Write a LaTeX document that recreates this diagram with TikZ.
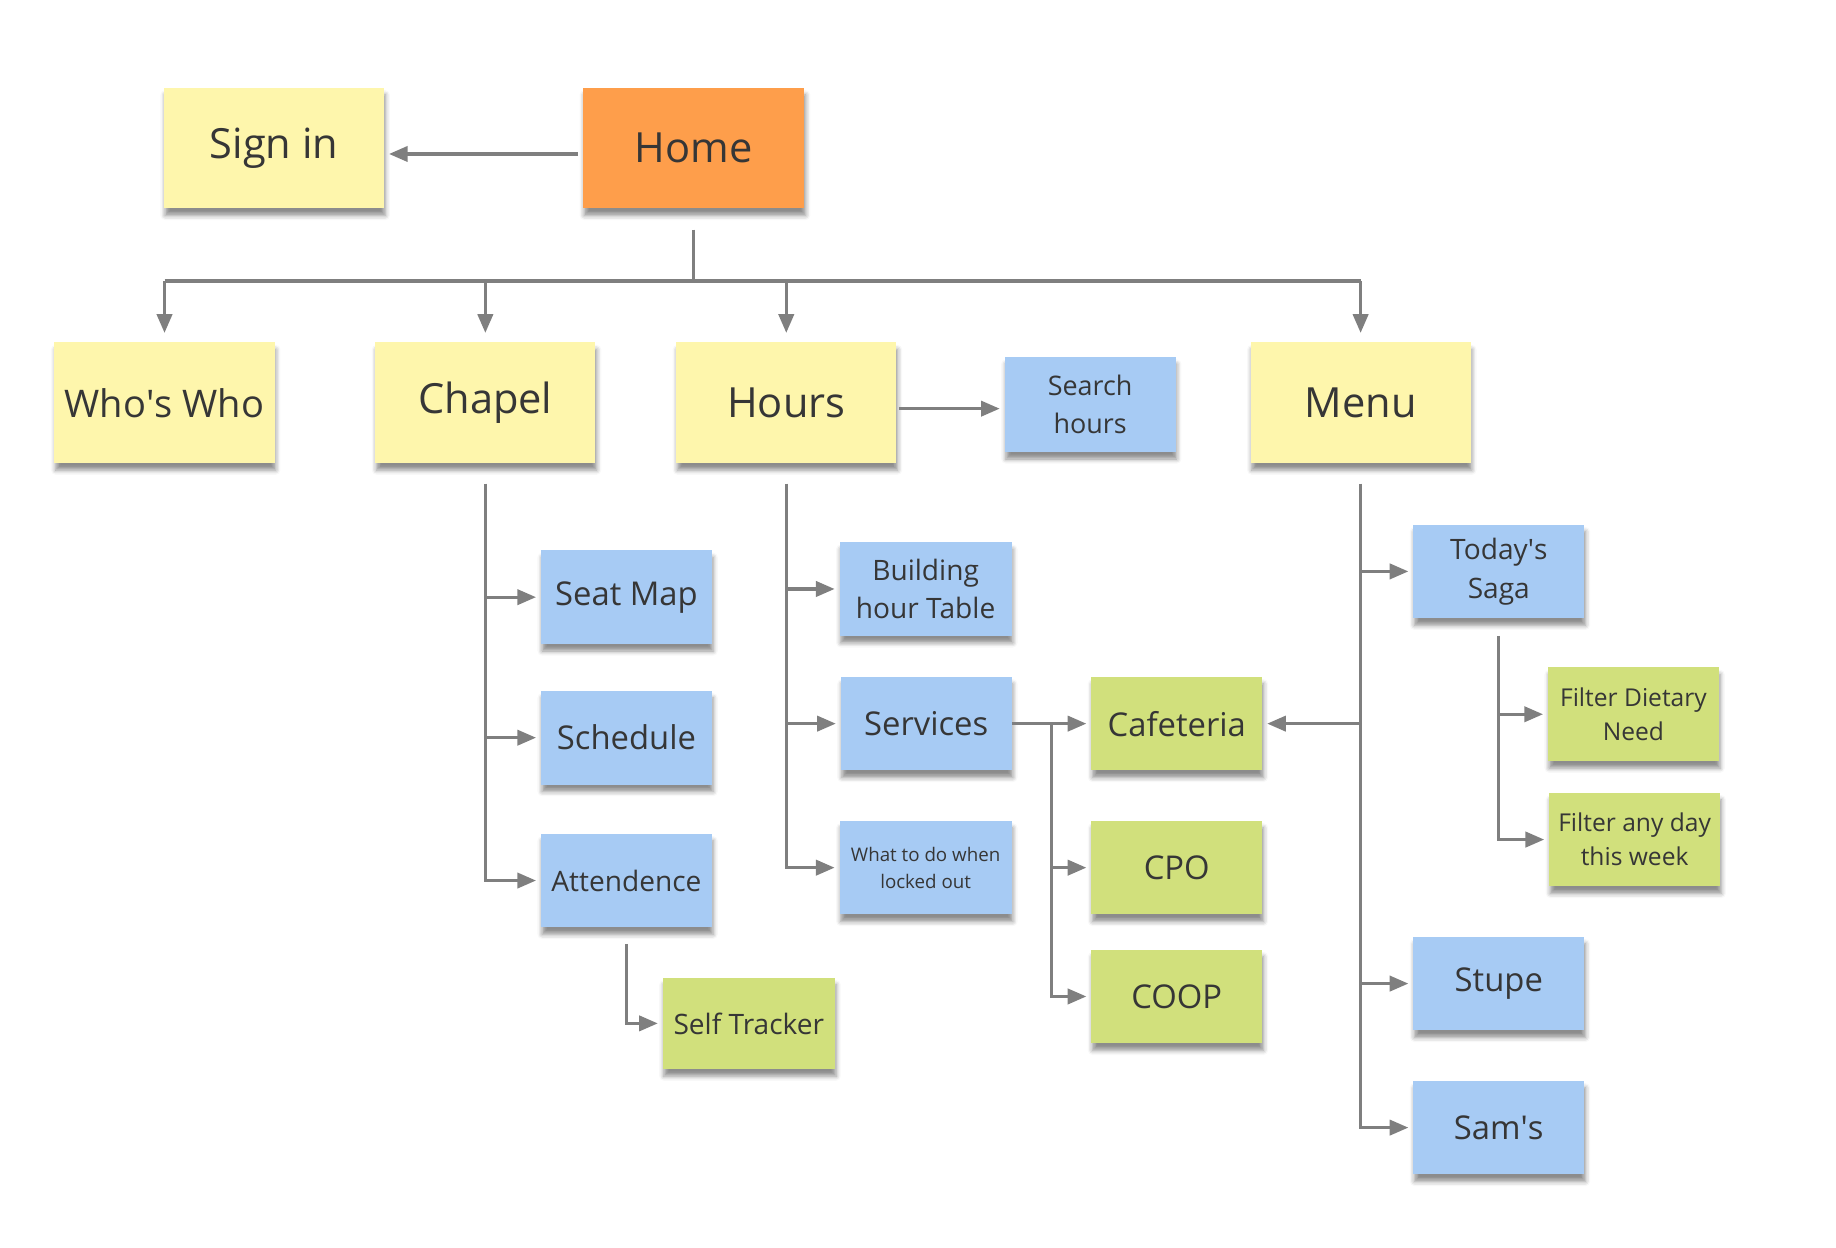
\documentclass[tikz,border=0pt]{standalone}
\usepackage{fontspec}
\setmainfont{Open Sans}
\usetikzlibrary{arrows.meta,shadows.blur}
\definecolor{stYellow}{HTML}{FEF6AC}
\definecolor{stOrange}{HTML}{FE9E4B}
\definecolor{stBlue}{HTML}{A7CBF4}
\definecolor{stGreen}{HTML}{D1E07C}
\definecolor{txt}{HTML}{363636}
\definecolor{lineGray}{HTML}{7F7F7F}
\tikzset{
  sticky/.style={rectangle, inner sep=0pt, text=txt, align=center,
    blur shadow={shadow xshift=1pt, shadow yshift=-6pt, shadow opacity=45,
      shadow blur radius=4pt}},
  bignote/.style={sticky, fill=stYellow, minimum width=188pt, minimum height=103pt,
    font=\fontsize{35.5}{40}\selectfont},
  bluenote/.style={sticky, fill=stBlue, minimum width=146pt, minimum height=80pt},
  greennote/.style={sticky, fill=stGreen, minimum width=146pt, minimum height=80pt},
  fbig/.style={font=\fontsize{28}{33}\selectfont},
  fmid/.style={font=\fontsize{24}{33}\selectfont},
  fsmall/.style={font=\fontsize{21}{29}\selectfont},
  ftiny/.style={font=\fontsize{16}{23}\selectfont},
  conn/.style={draw=lineGray, line width=2.8pt,
    -{Triangle[length=16pt,width=13pt]}, shorten >=4pt},
  plain/.style={draw=lineGray, line width=2.8pt},
}
\newcommand{\apos}{\textquotesingle}
\begin{document}
\begin{tikzpicture}[x=1pt,y=-1pt]
\useasboundingbox (0,0) rectangle (1568,1065);
% top row
\node[bignote] (signin) at (234,126.5) {Sign in};
\node[bignote, fill=stOrange, minimum width=189pt] (home) at (592.5,126.5) {Home};
% second row
\node[bignote, font=\fontsize{32.5}{40}\selectfont] (whos) at (140.5,344) {Who\apos s Who};
\node[bignote] (chapel) at (414.5,344) {Chapel};
\node[bignote] (hours) at (671.5,344) {Hours};
\node[bignote] (menu) at (1162,344) {Menu};
\node[bluenote, minimum height=81pt, font=\fontsize{23}{33}\selectfont] (search) at (931,345.5) {Search\\hours};
% chapel column
\node[bluenote, fbig] (seatmap) at (535,510) {Seat Map};
\node[bluenote, fbig] (schedule) at (535,630) {Schedule};
\node[bluenote, fmid] (attend) at (535,752) {Attendence};
\node[greennote, fmid, minimum width=147pt, minimum height=78pt] (self) at (639.5,874) {Self Tracker};
% hours column
\node[bluenote, fmid, minimum width=147pt] (building) at (790.5,503) {Building\\hour Table};
\node[bluenote, fbig] (services) at (791,618) {Services};
\node[bluenote, ftiny, minimum width=147pt] (whattodo) at (790.5,741) {What to do when\\locked out};
\node[greennote, fbig] (cafeteria) at (1005,618) {Cafeteria};
\node[greennote, fbig] (cpo) at (1005,741) {CPO};
\node[greennote, fbig] (coop) at (1005,851) {COOP};
% menu column
\node[bluenote, fmid] (saga) at (1280,488) {Today\apos s\\Saga};
\node[bluenote, fbig] (stupe) at (1280,840) {Stupe};
\node[bluenote, fbig] (sams) at (1280,963) {Sam\apos s};
\node[greennote, fsmall] (filter1) at (1395,610) {Filter Dietary\\Need};
\node[greennote, fsmall] (filter2) at (1396,717) {Filter any day\\this week};

% connectors
\draw[conn] (home.west) ++(-4,5) coordinate (hw) -- (hw -| signin.east);
\draw[plain] (592.5,196) coordinate (hb) -- (592.5,240) coordinate (hj);
\draw[plain] (hj -| whos.north) -- (hj -| menu.north);
\draw[conn, shorten >=8pt] (hj -| whos.north) -- (whos.north);
\draw[conn, shorten >=8pt] (hj -| chapel.north) -- (chapel.north);
\draw[conn, shorten >=8pt] (hj -| hours.north) -- (hours.north);
\draw[conn, shorten >=8pt] (hj -| menu.north) -- (menu.north);
\draw[conn] (hours.east) ++(2,5) coordinate (he) -- (he -| search.west);
% chapel tree
\coordinate (ct) at (414.5,413);
\draw[conn] (ct) |- (attend.west);
\draw[conn] (ct |- seatmap.west) -- (seatmap.west);
\draw[conn] (ct |- schedule.west) -- (schedule.west);
\draw[conn] (535,806) coordinate (at) |- (self.west);
% hours tree
\coordinate (ht) at (671.5,413);
\draw[conn] (ht) |- (whattodo.west);
\draw[conn] (ht |- building.west) -- (building.west);
\draw[conn] (ht |- services.west) -- (services.west);
\draw[conn] (services.east) -- (cafeteria.west);
\coordinate (sv) at (898,618);
\draw[conn] (sv) |- (coop.west);
\draw[conn] (sv |- cpo.west) -- (cpo.west);
% menu tree
\coordinate (mt) at (1162,413);
\draw[conn] (mt) |- (sams.west);
\draw[conn] (mt |- saga.west) -- (saga.west);
\draw[conn] (mt |- stupe.west) -- (stupe.west);
\draw[conn] (mt |- cafeteria.east) -- (cafeteria.east);
\coordinate (st) at (1280,543);
\draw[conn] (st) |- (filter2.west);
\draw[conn] (st |- filter1.west) -- (filter1.west);
\end{tikzpicture}
\end{document}
